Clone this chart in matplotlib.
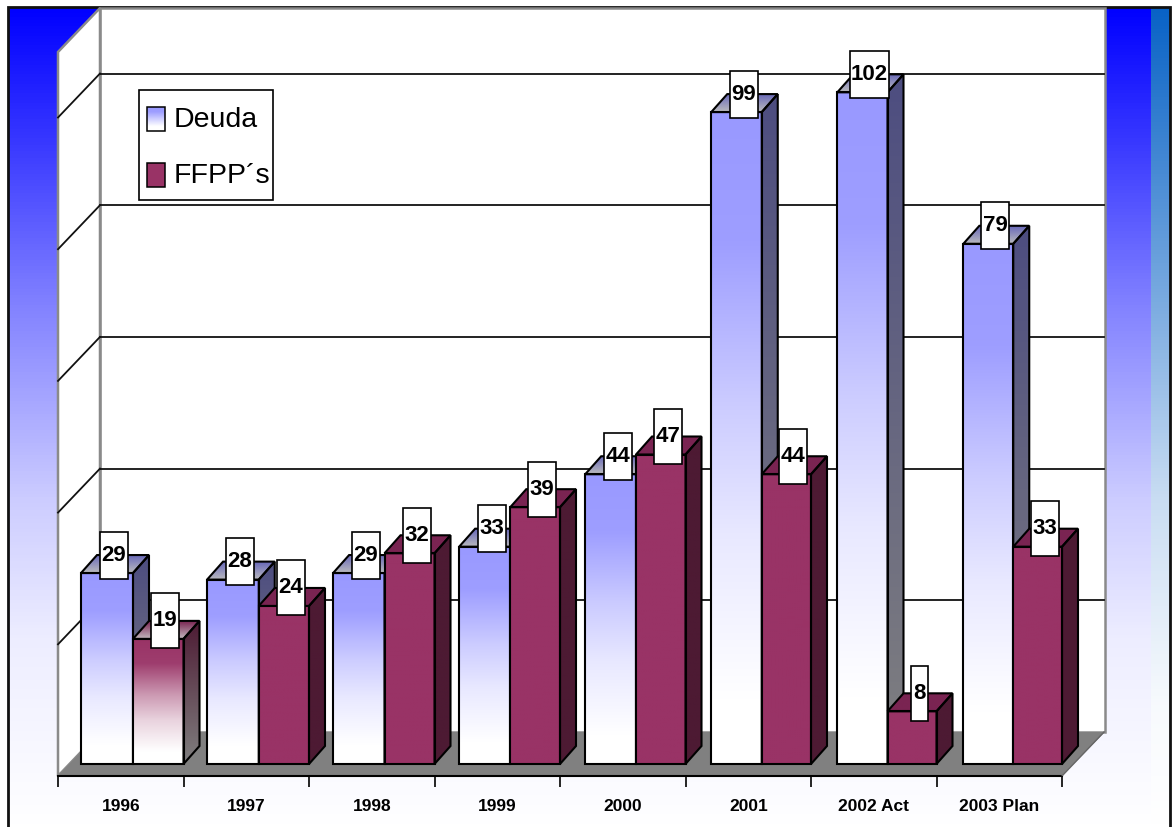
import numpy as np
import matplotlib
matplotlib.use('Agg')
import matplotlib.pyplot as plt
from matplotlib.patches import Polygon, Rectangle

plt.rcParams['font.family'] = ['Liberation Sans', 'DejaVu Sans']

years = ['1996', '1997', '1998', '1999', '2000', '2001', '2002 Act', '2003 Plan']
deuda = [29, 28, 29, 33, 44, 99, 102, 79]
ffpp = [19, 24, 32, 39, 47, 44, 8, 33]
grid_values = [20, 40, 60, 80, 100]

W, H = 1175, 828
PX_CAT = 125.5   # pixels per category
PX_VAL = 6.585   # pixels per unit of value
X0, Y0 = 58, 765  # first tick, bar base

# fake 3d depth, in axis units
BAR_DX = 16 / PX_CAT
BAR_DY = 18 / PX_VAL
WALL_DX = 42 / PX_CAT
WALL_DY = 32 / PX_VAL
FLOOR_Y = -12 / PX_VAL

BLUE = (153, 153, 255)
BLUE_SIDE = (77, 77, 128)
BLUE_TOP = (105, 105, 185)
WINE = (153, 51, 102)
WINE_SIDE = (77, 26, 51)
WINE_TOP = (122, 36, 82)
GREY = (128, 128, 128)
LIGHT_GREY = (188, 188, 190)
WHITE = (255, 255, 255)

FADE_POS = [0, 0.2, 0.45, 0.65, 0.9, 1]
FADE_MIX = [0, 0.05, 0.5, 0.78, 1, 1]


def ramp(top, bottom, pos=(0, 1), mix=(0, 1), n=256):
  t = np.interp(np.linspace(0, 1, n), pos, mix)[:, None]
  col = np.array(top) * (1 - t) + np.array(bottom) * t
  return (col / 255)[:, None, :]


def gradient_poly(a, verts, colors, z):
  # vertical gradient clipped to a polygon
  verts = np.array(verts, dtype=float)
  x1, x2 = verts[:, 0].min(), verts[:, 0].max()
  y1, y2 = verts[:, 1].min(), verts[:, 1].max()
  im = a.imshow(colors, extent=(x1, x2, y1, y2), aspect='auto', interpolation='bilinear', zorder=z)
  im.set_clip_path(Polygon(verts, closed=True, transform=a.transData))
  return im


def draw_bar(a, left, right, value, front, side, top_face, z):
  front_poly = [(left, 0), (right, 0), (right, value), (left, value)]
  side_poly = [(right, 0), (right + BAR_DX, BAR_DY), (right + BAR_DX, value + BAR_DY), (right, value)]
  top_poly = [(left, value), (right, value), (right + BAR_DX, value + BAR_DY), (left + BAR_DX, value + BAR_DY)]
  # top face runs dark at the back to light at the front
  gradient_poly(a, front_poly, front, z)
  gradient_poly(a, side_poly, side, z)
  gradient_poly(a, top_poly, top_face, z)
  for poly in (side_poly, top_poly, front_poly):
    a.add_patch(Polygon(poly, closed=True, fill=False, edgecolor='black', lw=1.5, zorder=z, joinstyle='miter'))


def draw_label(a, cat_x, value, height_px):
  text = str(value)
  width_px = {1: 17, 2: 28, 3: 39}[len(text)]
  cx = cat_x + 7 / PX_CAT
  cy = value + 18 / PX_VAL
  w = width_px / PX_CAT
  h = height_px / PX_VAL
  a.add_patch(Rectangle((cx - w / 2, cy - h / 2), w, h, facecolor='white', edgecolor='black', lw=1.2, zorder=500))
  a.text(cx, cy + 1 / PX_VAL, text, ha='center', va='center', fontsize=16, fontweight='bold', zorder=501)


fig = plt.figure(figsize=(W / 100, H / 100), dpi=100, facecolor='white')

# slide background, walls and legend sit in pixel coordinates
bg = fig.add_axes([0, 0, 1, 1])
bg.set_xlim(0, W)
bg.set_ylim(H, 0)
bg.set_autoscale_on(False)
bg.axis('off')

bg_pos = [0, 122 / 820, 292 / 820, 492 / 820, 632 / 820, 1]
bg_mix = [0, 0.2, 0.5, 0.8, 0.93, 1]
bg.imshow(ramp((0, 0, 255), WHITE, bg_pos, bg_mix), extent=(8, 1170, H, 8), aspect='auto', zorder=0)
strip_pos = [0, 292 / 820, 492 / 820, 700 / 820, 1]
strip_mix = [0, 0.46, 0.78, 0.97, 1]
bg.imshow(ramp((8, 98, 198), WHITE, strip_pos, strip_mix), extent=(1151, 1170, H, 8), aspect='auto', zorder=0.5)

bg.plot([8, 8, 1169.5, 1169.5], [H, 7.5, 7.5, H], color='#111111', lw=2, zorder=1, solid_joinstyle='miter')

bg.add_patch(Polygon([(100, 9), (1105, 9), (1105, 733), (100, 733)], closed=True, facecolor='white', edgecolor='#8a8a8a', lw=1.8, zorder=2))
bg.add_patch(Polygon([(58, 53), (100, 9), (100, 733), (58, 777)], closed=True, facecolor='white', edgecolor='#8a8a8a', lw=1.8, zorder=2))
bg.add_patch(Polygon([(58, 777), (100, 733), (1105, 733), (1062, 777)], closed=True, facecolor='#808080', edgecolor='none', zorder=3))

# legend
bg.add_patch(Rectangle((139, 91), 134, 110, facecolor='white', edgecolor='black', lw=1.2, zorder=4))
bg.imshow(ramp(BLUE, WHITE, (0, 0.2, 0.8, 1), (0, 0.05, 1, 1)), extent=(147, 165, 132, 108), aspect='auto', zorder=5)
bg.add_patch(Rectangle((147, 108), 18, 24, fill=False, edgecolor='black', lw=1.1, zorder=6))
bg.add_patch(Rectangle((147, 164), 18, 24, facecolor=np.array(WINE) / 255, edgecolor='black', lw=1.1, zorder=6))
bg.text(174, 120, 'Deuda', fontsize=20.5, va='center', ha='left', zorder=6)
bg.text(174, 176, 'FFPP´s', fontsize=20.5, va='center', ha='left', zorder=6)

# the chart itself: x in categories, y in value units
ax = fig.add_axes([0, 0, 1, 1])
ax.patch.set_alpha(0)
ax.axis('off')
ax.set_autoscale_on(False)
ax.set_xlim(-X0 / PX_CAT, (W - X0) / PX_CAT)
ax.set_ylim((Y0 - H) / PX_VAL, Y0 / PX_VAL)

n_cat = len(years)
for v in grid_values:
  ax.plot([WALL_DX, n_cat + WALL_DX], [v + WALL_DY, v + WALL_DY], color='#111111', lw=1.3, zorder=1)
  ax.plot([0, WALL_DX], [v + FLOOR_Y, v + WALL_DY], color='#111111', lw=1.3, zorder=1)

ax.plot([0, n_cat], [FLOOR_Y, FLOOR_Y], color='black', lw=1.5, zorder=2)
ax.plot([n_cat, n_cat + WALL_DX], [FLOOR_Y, WALL_DY], color='#666666', lw=1, zorder=2)
ax.vlines(np.arange(n_cat + 1), FLOOR_Y - 11 / PX_VAL, FLOOR_Y, color='black', lw=1.2, zorder=2)

blue_front = ramp(BLUE, WHITE, FADE_POS, FADE_MIX)
blue_side = ramp(BLUE_SIDE, GREY)
blue_top = ramp(BLUE_TOP, LIGHT_GREY)
wine_solid = ramp(WINE, WINE)
wine_side = ramp(WINE_SIDE, WINE_SIDE)
wine_top = ramp(WINE_TOP, WINE_TOP)
# only the first wine bar fades out
wine_fade = ramp(WINE, WHITE, FADE_POS, FADE_MIX)
wine_fade_side = ramp(WINE_SIDE, GREY)
wine_fade_top = ramp(WINE_TOP, (195, 185, 190))

z = 10
for i in range(n_cat):
  # bar edges drift a little to the right across the categories
  left = i + (23 + 0.55 * i) / PX_CAT
  split = i + (75 + 0.25 * i) / PX_CAT
  right = i + 1
  draw_bar(ax, left, split, deuda[i], blue_front, blue_side, blue_top, z)
  z += 1
  if i == 0:
    draw_bar(ax, split, right, ffpp[i], wine_fade, wine_fade_side, wine_fade_top, z)
  else:
    draw_bar(ax, split, right, ffpp[i], wine_solid, wine_side, wine_top, z)
  z += 1
  draw_label(ax, (left + split) / 2, deuda[i], 47)
  draw_label(ax, (split + right) / 2, ffpp[i], 55)
  ax.text(i + 0.5, FLOOR_Y - 30 / PX_VAL, years[i], ha='center', va='center', fontsize=12.5, fontweight='bold')

fig.savefig('out.png', dpi=100)
